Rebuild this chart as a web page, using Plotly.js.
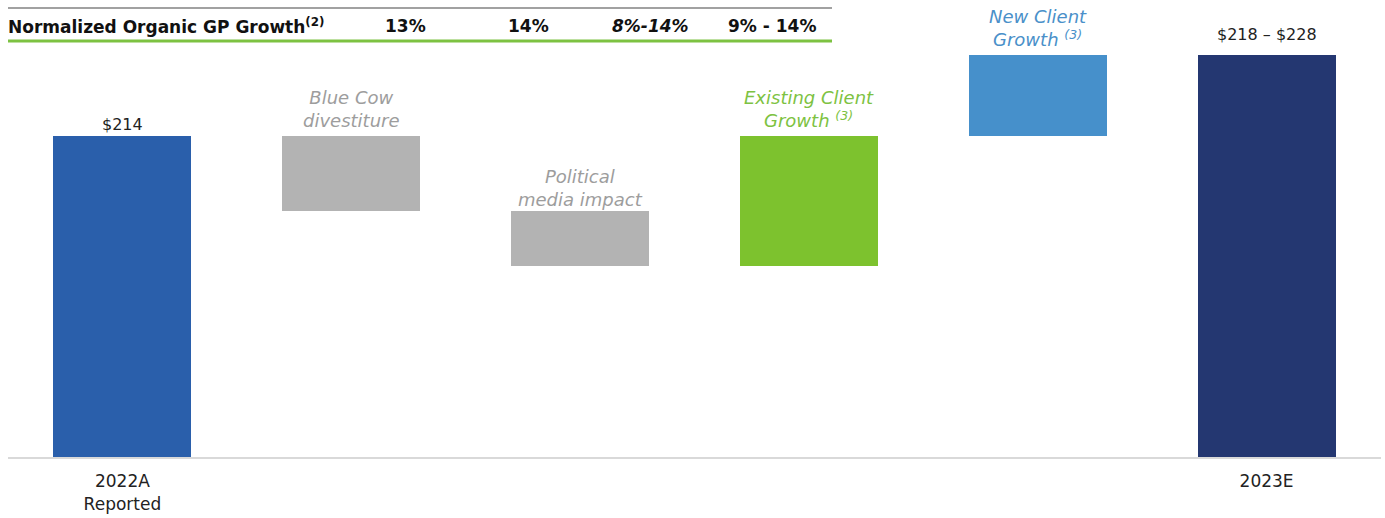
<!DOCTYPE html>
<html>
<head>
<meta charset="utf-8">
<script src="https://cdn.plot.ly/plotly-3.0.1.min.js"></script>
<style>html,body{margin:0;padding:0;background:#fff;}#chart{width:1385px;height:518px;}</style>
</head>
<body>
<div id="chart"></div>
<script>
// ---- data ----
const categories = ['2022A', 'Blue Cow', 'Political', 'Existing', 'New', '2023E'];
const tickLabels = ['2022A<br>Reported', '', '', '', '', '2023E'];
const measures = ['absolute', 'relative', 'relative', 'relative', 'relative', 'total'];
const values = [214, -8.3, -6.2, 14.5, 9.0, 223];
const barColors = ['#2a5fab', '#b3b3b3', '#b3b3b3', '#7dc22e', '#4690cb', '#243771'];
const barLabels = ['$214', '<i>Blue Cow<br>divestiture</i>', '<i>Political<br>media impact</i>',
                   '<i>Existing Client<br>Growth <sup>(3)</sup></i>', '<i>New Client<br>Growth <sup>(3)</sup></i>', '$218 – $228'];
const labelColors = ['#222222', '#9d9d9d', '#9d9d9d', '#7dc242', '#4a90c9', '#222222'];
const labelSizes = [16, 18, 18, 18, 18, 16];
const labelShifts = [0, 3, -1, 3, 3, 9];
const headerLabel = '<b>Normalized Organic GP Growth<sup>(2)</sup></b>';
const headerValues = ['<b>13%</b>', '<b>14%</b>', '<b><i>8%-14%</i></b>', '<b>9% - 14%</b>'];

// ---- build bars (base + height) ----
const AXIS_MIN = 178.33;
const bases = [], heights = [];
let running = 0;
values.forEach((v, i) => {
  if (measures[i] === 'absolute' || measures[i] === 'total') {
    bases.push(0); heights.push(v); running = v;
  } else {
    const b = v >= 0 ? running : running + v;
    bases.push(b); heights.push(Math.abs(v)); running += v;
  }
});

const FONT = '"DejaVu Sans", sans-serif';
const ML = 8, MR = 4, PW = 1385 - ML - MR, PH = 457;
const px = x => (x - ML) / PW;      // pixel x -> paper x
const py = y => (PH - y) / PH;      // pixel y -> paper y

const trace = {
  type: 'bar',
  x: categories,
  y: heights,
  base: bases,
  width: 0.603,
  marker: {color: barColors, line: {width: 0}},
  hoverinfo: 'skip'
};

const annotations = categories.map((c, i) => ({
  x: c, y: bases[i] + heights[i], xref: 'x', yref: 'y',
  text: barLabels[i], showarrow: false, yanchor: 'bottom', yshift: labelShifts[i],
  font: {family: FONT, size: labelSizes[i], color: labelColors[i]}, align: 'center'
}));

// header row
const headerX = [406, 528, 650, 772];
annotations.push({
  x: px(8), y: py(26), xref: 'paper', yref: 'paper', xanchor: 'left', yanchor: 'middle',
  borderpad: 0, xshift: -1,
  text: headerLabel, showarrow: false, font: {family: FONT, size: 17, color: '#111'}
});
headerValues.forEach((t, i) => annotations.push({
  x: px(headerX[i]), y: py(26), xref: 'paper', yref: 'paper', xanchor: 'center', yanchor: 'middle',
  text: t, showarrow: false, font: {family: FONT, size: 17, color: '#111'}
}));

const shapes = [
  {type: 'line', xref: 'paper', yref: 'paper', x0: px(8), x1: px(832),
   y0: py(8), y1: py(8), line: {color: '#444', width: 1.2}},
  {type: 'line', xref: 'paper', yref: 'paper', x0: px(8), x1: px(832),
   y0: py(41), y1: py(41), line: {color: '#7dc242', width: 3}}
];

const layout = {
  width: 1385, height: 518,
  margin: {l: ML, r: MR, t: 0, b: 61},
  paper_bgcolor: '#fff', plot_bgcolor: '#fff',
  showlegend: false,
  bargap: 0,
  xaxis: {
    type: 'category', range: [-0.5, 5.5], tickvals: categories, ticktext: tickLabels,
    showgrid: false, zeroline: false, showline: true, linecolor: '#d9d9d9', linewidth: 2,
    ticks: '', ticklabelstandoff: 8, tickfont: {family: FONT, size: 17, color: '#222'}, fixedrange: true
  },
  yaxis: {
    range: [AXIS_MIN, AXIS_MIN + 457 / 9], visible: false, showgrid: false, zeroline: false, fixedrange: true
  },
  annotations: annotations,
  shapes: shapes
};

Plotly.newPlot('chart', [trace], layout, {displayModeBar: false, staticPlot: true});
</script>
</body>
</html>
